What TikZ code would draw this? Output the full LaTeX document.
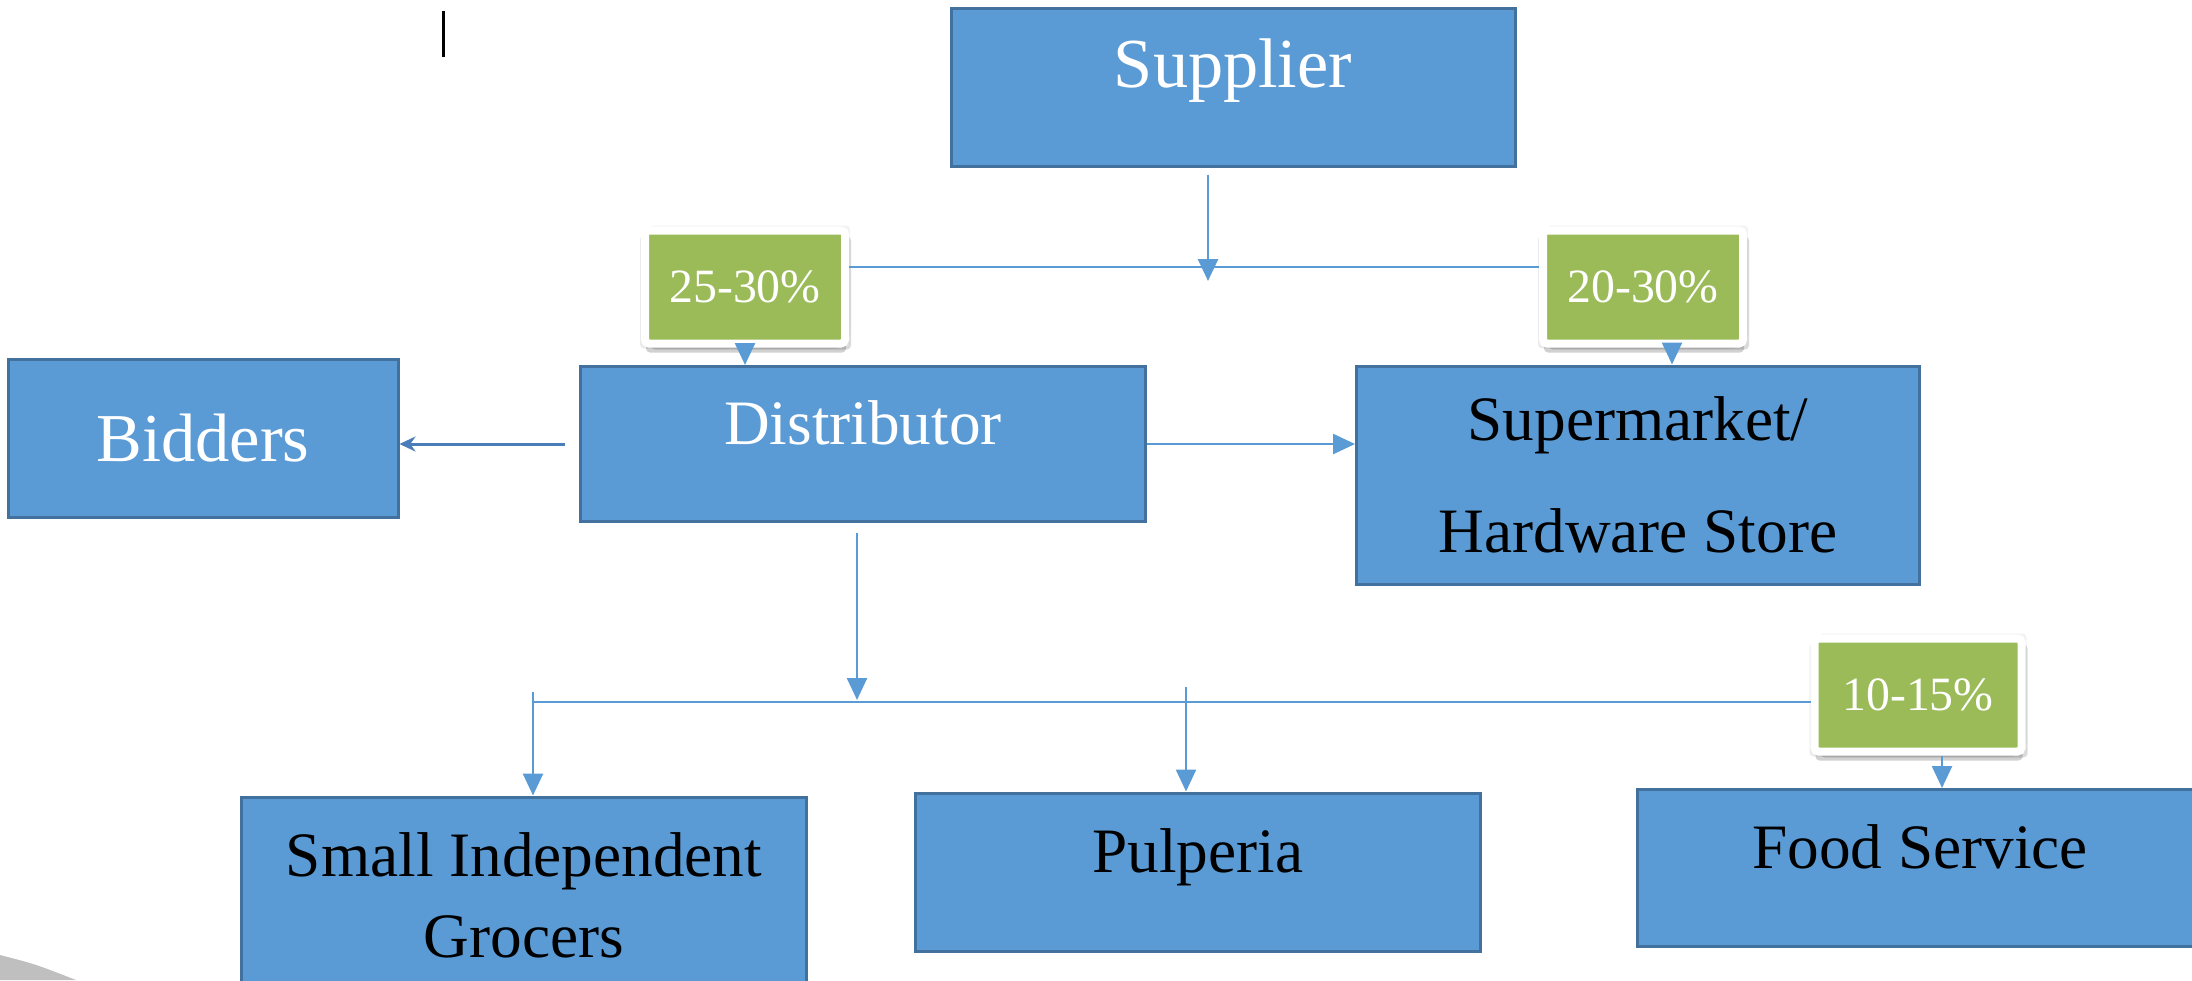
\documentclass[tikz,border=0pt]{standalone}
\usepackage{fontspec}
\setmainfont{Liberation Serif}
\usetikzlibrary{arrows.meta,positioning,shadows}
\definecolor{boxfill}{HTML}{5B9BD5}
\definecolor{boxline}{HTML}{41719C}
\definecolor{tagfill}{HTML}{9BBB59}
\definecolor{flowline}{HTML}{5B9BD5}
\definecolor{bidline}{HTML}{4A7EBB}
\definecolor{swoosh}{HTML}{BFBFBF}
\tikzset{
  stage/.style={draw=boxline,fill=boxfill,line width=0.3mm,minimum width=56.5mm,
    minimum height=15.8mm,inner sep=0pt,align=center,font=\fontsize{18}{21}\selectfont},
  oneline/.style={text height=4mm,text depth=4mm},
  tag/.style={fill=tagfill,draw=white,line width=0.8mm,rounded corners=0.4mm,
    minimum width=20mm,minimum height=11.3mm,inner sep=0pt,text=white,
    font=\fontsize{13.6}{16}\selectfont,
    drop shadow={shadow xshift=-0.5mm,shadow yshift=-0.5mm,opacity=0.08,fill=black},
    drop shadow={shadow xshift=0.5mm,shadow yshift=0.5mm,opacity=0.05,fill=black},
    drop shadow={shadow xshift=0.6mm,shadow yshift=-0.6mm,opacity=0.14,fill=black},
    drop shadow={shadow xshift=0.1mm,shadow yshift=-0.9mm,opacity=0.18,fill=black}},
  flow/.style={color=flowline,line width=0.25mm,-{Triangle[length=2.2mm,width=2mm]}},
}
\begin{document}
\begin{tikzpicture}[x=0.1mm,y=-0.1mm]
\useasboundingbox (0,0) rectangle (2192,980);
\clip (0,0) rectangle (2192,980);
\fill[swoosh] (0,955) .. controls (35,964) .. (76,980) -- (0,980) -- cycle;
\draw[line width=0.3mm] (443,11) -- (443,57);

\node[stage,oneline,minimum width=56.4mm,text=white,font=\fontsize{20}{23}\selectfont] (sup) at (1233,87) {Supplier};
\node[stage,minimum width=39mm,text=white,font=\fontsize{19.5}{22}\selectfont] (bid) at (203,438) {Bidders};
\node[stage,oneline,minimum height=15.5mm,text=white] (dis) at (863,444) {Distributor};
\node[stage,minimum width=56.3mm,minimum height=21.8mm,font=\fontsize{18}{32}\selectfont] (sm) at (1638,475) {Supermarket/\\Hardware Store};
\node[stage,minimum height=21.8mm,text depth=2.2mm,font=\fontsize{18}{22.8}\selectfont] (sig) at (524,906) {Small Independent\\Grocers};
\node[stage,oneline] (pul) at (1198,872) {Pulperia};
\node[stage,oneline,minimum height=15.7mm] (food) at (1920,868) {Food Service};

\node[tag] (pa) at (745,287) {25-30\%};
\node[tag] (pb) at (1643,287) {20-30\%};
\node[tag,minimum width=20.7mm] (pc) at (1918,695) {10-15\%};

\coordinate (suptip) at (1208,281);
\coordinate (topbar) at (1208,267);
\coordinate (midtip) at (857,700);
\coordinate (lowbar) at (533,702);
\coordinate (lowleft) at (533,692);
\coordinate (pultop) at (1186,687);

\path
(sup.south -| suptip) edge[flow,shorten <=0.7mm] (suptip)
(pa.south) edge[flow] (pa.south |- dis.north)
([xshift=2.9mm]pb.south) edge[flow] ([xshift=2.9mm]pb.south |- sm.north)
([xshift=2.4mm]pc.south) edge[flow] ([xshift=2.4mm]pc.south |- food.north)
(dis.east) edge[flow] (dis.east -| sm.west)
(dis.south -| midtip) edge[flow,shorten <=1mm] (midtip)
(lowleft) edge[flow] (lowleft |- sig.north)
(pultop) edge[flow] (pultop |- pul.north);
\draw[flowline,line width=0.25mm] (pa.east |- topbar) -- (pb.west |- topbar);
\draw[flowline,line width=0.25mm] (lowbar) -- (pc.west |- lowbar);
\draw[bidline,line width=0.3mm,-{Stealth[length=1.6mm,width=1.5mm]},shorten <=1.4mm] (dis.west) -- (dis.west -| bid.east);
\end{tikzpicture}
\end{document}
